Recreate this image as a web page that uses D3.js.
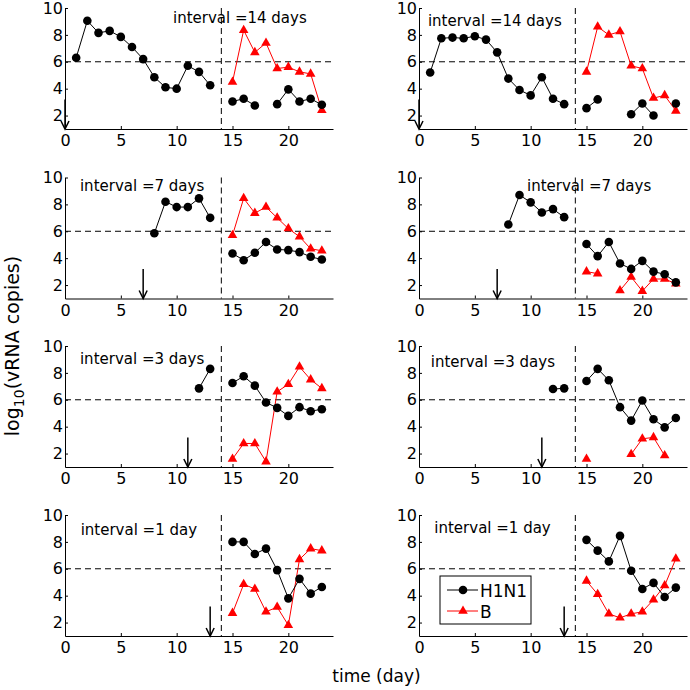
<!DOCTYPE html>
<html><head><meta charset="utf-8">
<script src="https://cdn.jsdelivr.net/npm/d3@7"></script>
<style>body{margin:0;background:#fff} text{font-family:"DejaVu Sans",sans-serif}</style>
</head><body><svg id="c" width="690" height="690"></svg>
<script>
const _ = null;
// day index 1..23
const days = [1,2,3,4,5,6,7,8,9,10,11,12,13,14,15,16,17,18,19,20,21,22,23];
const xTicks = [0,5,10,15,20];
const yTicks = [2,4,6,8,10];
const intervalLabels = ["interval =14 days","interval =14 days","interval =7 days","interval =7 days",
                        "interval =3 days","interval =3 days","interval =1 day","interval =1 day"];
const arrowDays = [0,0,7,7,11,11,13,13];

const h1n1_14a = [6.3,9.05,8.15,8.3,7.85,7.1,6.2,4.85,4.1,4.0,5.7,5.25,4.25,_,3.05,3.25,2.75,_,2.85,3.95,3.05,3.25,2.8];
const b_14a    = [_,_,_,_,_,_,_,_,_,_,_,_,_,_,4.5,8.35,6.7,7.4,5.5,5.6,5.25,5.1,2.4];
const h1n1_14b = [5.2,7.75,7.8,7.75,7.9,7.65,6.7,4.75,3.9,3.5,4.85,3.25,2.85,_,2.55,3.2,_,_,2.1,2.9,2.0,_,2.9];
const b_14b    = [_,_,_,_,_,_,_,_,_,_,_,_,_,_,5.25,8.6,8.0,8.25,5.7,5.5,3.3,3.5,2.35];
const h1n1_7a  = [_,_,_,_,_,_,_,5.85,8.2,7.8,7.8,8.45,7.0,_,4.35,3.85,4.4,5.2,4.65,4.6,4.45,4.1,3.9];
const b_7a     = [_,_,_,_,_,_,_,_,_,_,_,_,_,_,5.7,8.45,7.35,7.8,7.0,6.2,5.6,4.7,4.55];
const h1n1_7b  = [_,_,_,_,_,_,_,6.5,8.7,8.15,7.4,7.65,7.05,_,5.05,4.15,5.2,3.6,3.2,3.8,3.0,2.8,2.2];
const b_7b     = [_,_,_,_,_,_,_,_,_,_,_,_,_,_,3.0,2.85,_,1.6,2.6,1.55,2.45,2.45,2.1];
const h1n1_3a  = [_,_,_,_,_,_,_,_,_,_,_,6.85,8.3,_,7.25,7.75,7.05,5.8,5.4,4.8,5.45,5.15,5.3];
const b_3a     = [_,_,_,_,_,_,_,_,_,_,_,_,_,_,1.6,2.75,2.75,1.4,6.6,7.15,8.45,7.5,6.85];
const h1n1_3b  = [_,_,_,_,_,_,_,_,_,_,_,6.8,6.85,_,7.4,8.3,7.45,5.45,4.45,5.95,4.55,3.95,4.65];
const b_3b     = [_,_,_,_,_,_,_,_,_,_,_,_,_,_,1.6,_,_,_,1.95,3.1,3.2,1.85,_];
const h1n1_1a  = [_,_,_,_,_,_,_,_,_,_,_,_,_,_,8.0,8.0,7.1,7.5,5.9,3.8,5.25,4.15,4.65];
const b_1a     = [_,_,_,_,_,_,_,_,_,_,_,_,_,_,2.7,4.85,4.5,2.8,3.15,1.8,6.7,7.5,7.35];
const h1n1_1b  = [_,_,_,_,_,_,_,_,_,_,_,_,_,_,8.15,7.35,6.55,8.45,5.85,4.5,4.95,3.9,4.6];
const b_1b     = [_,_,_,_,_,_,_,_,_,_,_,_,_,_,5.1,4.1,2.65,2.35,2.65,2.8,3.7,4.75,6.75];

const h1n1Series = [h1n1_14a,h1n1_14b,h1n1_7a,h1n1_7b,h1n1_3a,h1n1_3b,h1n1_1a,h1n1_1b];
const bSeries    = [b_14a,b_14b,b_7a,b_7b,b_3a,b_3b,b_1a,b_1b];

// layout (pixels / label anchors in data units)
const colX = [65, 419], panelW = 268;
const rowY = [8, 177.5, 346, 515], panelH = 121;
const labelPos = [[9.67,8.86],[0.8,8.66],[1.34,8.96],[9.67,8.96],[1.34,8.69],[1.05,8.44],[1.4,8.51],[1.37,8.64]];

const svg = d3.select("#c");
const RED = "#ff0000";
const tri = d3.symbol().type(d3.symbolTriangle).size(40);

for (let p = 0; p < 8; p++) {
  const col = p % 2, row = Math.floor(p / 2);
  const x = d3.scaleLinear().domain([0,24]).range([colX[col], colX[col] + panelW]);
  const y = d3.scaleLinear().domain([1,10]).range([rowY[row] + panelH, rowY[row]]);
  const g = svg.append("g");

  // axes
  const xa = g.append("g").attr("transform", `translate(0,${y(1)})`)
    .call(d3.axisBottom(x).tickValues(xTicks).tickSizeInner(-3).tickSizeOuter(0).tickPadding(6));
  const ya = g.append("g").attr("transform", `translate(${x(0)},0)`)
    .call(d3.axisLeft(y).tickValues(yTicks).tickSizeInner(-3).tickSizeOuter(0).tickPadding(2));
  [xa, ya].forEach(a => {
    a.selectAll("text").attr("font-size", 16).attr("font-family", "DejaVu Sans").attr("fill", "#000");
    a.selectAll("line,path").attr("stroke", "#000");
  });

  // reference lines
  g.append("line").attr("x1", x(0)).attr("x2", x(24)).attr("y1", y(6)).attr("y2", y(6))
    .attr("stroke", "#000").attr("stroke-dasharray", "6,4");
  g.append("line").attr("x1", x(14)).attr("x2", x(14)).attr("y1", y(10)).attr("y2", y(1))
    .attr("stroke", "#000").attr("stroke-dasharray", "6,4");

  // arrow
  const ax = x(arrowDays[p]), ay0 = y(3.2), ay1 = y(1);
  g.append("line").attr("x1", ax).attr("x2", ax).attr("y1", ay0).attr("y2", ay1)
    .attr("stroke", "#000").attr("stroke-width", 1.5);
  g.append("path").attr("d", `M${ax-4},${ay1-8}L${ax},${ay1}L${ax+4},${ay1-8}`)
    .attr("fill", "none").attr("stroke", "#000").attr("stroke-width", 1.5);

  // label
  g.append("text").attr("x", x(labelPos[p][0])).attr("y", y(labelPos[p][1]))
    .attr("font-size", 15).text(intervalLabels[p]);

  const line = d3.line().defined(d => d[1] != null).x(d => x(d[0])).y(d => y(d[1]));
  const hd = days.map((d, i) => [d, h1n1Series[p][i]]);
  const bd = days.map((d, i) => [d, bSeries[p][i]]);

  g.append("path").datum(bd).attr("d", line).attr("fill", "none").attr("stroke", RED).attr("stroke-width", 1);
  g.selectAll(".tb").data(bd.filter(d => d[1] != null)).enter().append("path")
    .attr("transform", d => `translate(${x(d[0])},${y(d[1])})`).attr("d", tri).attr("fill", RED);

  g.append("path").datum(hd).attr("d", line).attr("fill", "none").attr("stroke", "#000").attr("stroke-width", 1);
  g.selectAll(".cb").data(hd.filter(d => d[1] != null)).enter().append("circle")
    .attr("cx", d => x(d[0])).attr("cy", d => y(d[1])).attr("r", 4.3).attr("fill", "#000");

  if (p === 7) {
    const lg = g.append("g");
    lg.append("rect").attr("x", 440).attr("y", 576).attr("width", 91).attr("height", 48)
      .attr("fill", "#fff").attr("stroke", "#000");
    lg.append("line").attr("x1", 447).attr("x2", 478).attr("y1", 590).attr("y2", 590).attr("stroke", "#000");
    lg.append("circle").attr("cx", 463).attr("cy", 590).attr("r", 4.3).attr("fill", "#000");
    lg.append("text").attr("x", 480).attr("y", 596.5).attr("font-size", 17).text("H1N1");
    lg.append("line").attr("x1", 447).attr("x2", 478).attr("y1", 611).attr("y2", 611).attr("stroke", RED);
    lg.append("path").attr("transform", "translate(463,611)").attr("d", tri).attr("fill", RED);
    lg.append("text").attr("x", 480).attr("y", 617.5).attr("font-size", 17).text("B");
  }
}

// axis titles
svg.append("text").attr("x", 376.5).attr("y", 682).attr("text-anchor", "middle").attr("font-size", 17).text("time (day)");
const yl = svg.append("text").attr("transform", "translate(18.5,346) rotate(-90)")
  .attr("text-anchor", "middle").attr("font-size", 19);
yl.append("tspan").text("log");
yl.append("tspan").attr("font-size", 14).attr("dy", 5).text("10");
yl.append("tspan").attr("dy", -5).text("(vRNA copies)");
</script></body></html>
